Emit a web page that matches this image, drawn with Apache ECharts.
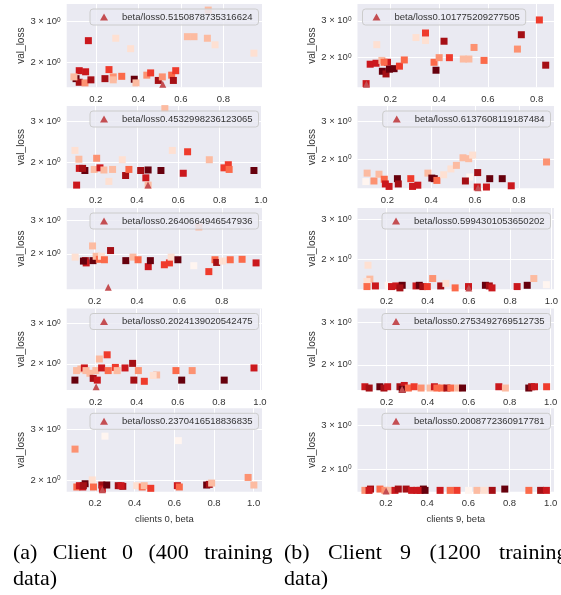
<!DOCTYPE html>
<html>
<head>
<meta charset="utf-8">
<script src="https://cdn.jsdelivr.net/npm/echarts@6/dist/echarts.min.js"></script>
<style>
  html, body { margin: 0; background: #fff; }
  #chart { width: 561px; height: 595px; }
</style>
</head>
<body>
<div id="chart"></div>
<script>
// every panel: [beta, val_loss, colour step 0..8 of the Reds map]
// client 0, panels top to bottom
const c0p1 = [[0.107,1.70,8],[0.122,1.84,6],[0.122,1.64,7],[0.149,1.63,3],[0.152,1.82,6],[0.165,2.48,6],[0.177,1.68,7],[0.097,1.73,2],[0.243,1.70,7],[0.262,1.86,5],[0.282,1.73,3],[0.294,2.54,1],[0.282,1.68,2],[0.322,1.74,4],[0.364,2.29,1],[0.381,1.69,8],[0.389,1.63,2],[0.44,1.76,3],[0.458,1.80,5],[0.494,1.67,7],[0.513,1.73,3],[0.557,1.76,4],[0.565,1.67,7],[0.576,1.84,5],[0.631,2.58,2],[0.662,2.58,2],[0.725,2.54,2],[0.761,2.38,1],[0.729,3.36,2],[0.944,2.19,1]]
const c0p2 = [[0.1,2.25,1],[0.119,2.06,2],[0.121,1.88,6],[0.108,1.59,6],[0.148,1.84,8],[0.137,1.88,7],[0.205,2.08,3],[0.193,1.86,2],[0.221,1.89,6],[0.24,1.85,2],[0.264,1.65,1],[0.282,1.86,2],[0.329,2.05,1],[0.345,1.75,7],[0.361,1.86,4],[0.418,1.84,7],[0.443,1.71,6],[0.454,1.85,8],[0.454,1.59,2],[0.516,1.84,8],[0.571,2.25,1],[0.624,1.79,6],[0.645,2.22,5],[0.75,2.05,2],[0.821,1.89,5],[0.842,1.95,5],[0.846,1.86,4],[0.966,1.84,8],[0.535,3.42,2]]
const c0p3 = [[0.108,1.92,1],[0.156,1.84,7],[0.16,1.79,6],[0.147,1.83,8],[0.19,2.20,2],[0.192,1.84,8],[0.207,1.94,2],[0.222,1.87,4],[0.232,1.94,1],[0.246,1.86,4],[0.275,2.08,7],[0.347,1.84,8],[0.381,1.92,2],[0.405,1.86,4],[0.453,1.71,6],[0.463,1.84,8],[0.529,1.75,5],[0.553,1.79,5],[0.561,1.92,1],[0.593,1.86,8],[0.668,1.73,0],[0.692,2.77,2],[0.739,1.61,5],[0.768,1.86,4],[0.776,1.80,7],[0.803,1.83,1],[0.84,1.86,4],[0.896,1.87,4],[0.962,1.79,6]]
const c0p4 = [[0.099,1.70,8],[0.107,1.87,2],[0.128,1.90,2],[0.145,1.92,6],[0.153,1.87,2],[0.172,1.82,2],[0.188,1.73,7],[0.208,1.70,6],[0.201,1.87,2],[0.218,2.10,2],[0.229,1.92,6],[0.256,2.19,5],[0.261,1.87,4],[0.299,1.87,1],[0.296,1.93,5],[0.305,1.87,2],[0.343,1.92,6],[0.38,2.01,7],[0.386,1.70,7],[0.408,1.87,3],[0.437,1.68,5],[0.497,1.79,2],[0.48,1.78,1],[0.591,1.87,4],[0.619,1.70,8],[0.67,1.87,3],[0.826,1.70,8],[0.971,1.92,6]]
const c0p5 = [[0.099,2.56,3],[0.108,1.89,4],[0.121,1.91,6],[0.138,1.89,6],[0.15,1.94,8],[0.141,1.91,7],[0.186,2.0,1],[0.192,1.89,4],[0.234,1.92,7],[0.237,1.86,6],[0.25,2.84,0],[0.259,1.92,8],[0.317,1.91,7],[0.34,1.90,7],[0.331,1.91,6],[0.41,1.91,1],[0.438,1.89,4],[0.448,1.91,2],[0.481,1.87,5],[0.615,1.91,6],[0.625,1.89,4],[0.62,2.74,0],[0.763,1.92,8],[0.776,1.93,7],[0.788,1.95,2],[0.972,2.04,3],[1.001,1.92,2]]

// client 9, panels top to bottom
const c9p1 = [[0.1003,1.49,6],[0.117,1.85,6],[0.141,1.87,6],[0.144,2.30,1],[0.165,1.93,2],[0.167,1.71,8],[0.182,1.66,7],[0.188,1.89,6],[0.174,1.89,4],[0.196,1.75,8],[0.215,1.76,8],[0.237,1.81,5],[0.257,1.94,4],[0.305,2.49,1],[0.344,2.62,5],[0.344,2.41,1],[0.379,1.89,4],[0.387,1.73,8],[0.40,1.99,3],[0.42,2.39,7],[0.442,1.99,5],[0.499,1.96,2],[0.522,1.96,2],[0.543,2.23,3],[0.584,1.93,4],[0.721,2.19,3],[0.737,2.57,7],[0.811,3.03,5],[0.837,1.83,7]]
const c9p2 = [[0.102,1.57,0],[0.108,1.72,2],[0.139,1.58,3],[0.162,1.70,2],[0.186,1.61,4],[0.191,1.53,6],[0.208,1.49,6],[0.246,1.62,8],[0.25,1.53,7],[0.307,1.62,5],[0.315,1.49,6],[0.339,1.51,6],[0.385,1.72,2],[0.403,1.63,8],[0.414,1.62,8],[0.426,1.59,4],[0.457,1.69,1],[0.49,1.80,1],[0.515,1.87,2],[0.545,2.03,2],[0.571,2.01,2],[0.589,2.09,1],[0.576,1.65,0],[0.556,1.58,7],[0.612,1.73,7],[0.61,1.48,6],[0.652,1.48,6],[0.667,1.62,8],[0.724,1.62,8],[0.765,1.50,6],[0.926,1.94,3]]
const c9p3 = [[0.110,1.88,1],[0.119,1.63,2],[0.105,1.59,1],[0.105,1.51,4],[0.146,1.52,6],[0.208,1.53,0],[0.224,1.51,6],[0.245,1.52,6],[0.276,1.53,8],[0.265,1.49,7],[0.343,1.52,6],[0.359,1.53,8],[0.376,1.51,7],[0.398,1.51,5],[0.424,1.64,3],[0.463,1.52,7],[0.488,1.56,1],[0.533,1.49,4],[0.598,1.51,6],[0.68,1.53,8],[0.699,1.52,7],[0.712,1.49,6],[0.834,1.51,6],[0.883,1.53,8],[0.915,1.64,2],[0.976,1.54,0]]
const c9p4 = [[0.094,1.62,6],[0.115,1.60,7],[0.167,1.62,8],[0.187,1.60,7],[0.205,1.62,6],[0.265,1.62,7],[0.286,1.64,6],[0.276,1.58,8],[0.306,1.60,4],[0.334,1.62,5],[0.368,1.60,3],[0.412,1.60,2],[0.433,1.62,6],[0.445,1.60,4],[0.469,1.60,4],[0.494,1.60,7],[0.513,1.60,4],[0.548,1.60,2],[0.57,1.60,8],[0.747,1.62,6],[0.779,1.60,2],[0.893,1.60,8],[0.907,1.62,7],[0.921,1.62,6],[0.98,1.62,5]]
const c9p5 = [[0.098,1.64,3],[0.125,1.66,7],[0.118,1.64,6],[0.171,1.66,4],[0.195,1.64,3],[0.216,1.64,2],[0.244,1.64,6],[0.26,1.66,7],[0.298,1.66,7],[0.325,1.64,6],[0.35,1.64,6],[0.382,1.66,8],[0.366,1.64,6],[0.39,1.64,8],[0.463,1.64,6],[0.512,1.64,4],[0.545,1.64,5],[0.601,1.64,0],[0.642,1.64,2],[0.678,1.64,1],[0.716,1.64,7],[0.777,1.66,8],[0.894,1.64,4],[0.951,1.64,7],[0.979,1.64,6]]

// best beta of each panel (legend) and its loss
const c0Best = [0.5150878735316624, 0.4532998236123065, 0.2640664946547936, 0.2024139020542475, 0.2370416518836835]
const c0BestLoss = [1.61, 1.59, 1.33, 1.59, 1.85]
const c9Best = [0.101775209277505, 0.6137608119187484, 0.5994301053650202, 0.2753492769512735, 0.2008772360917781]
const c9BestLoss = [1.48, 1.47, 1.49, 1.58, 1.63]

// axis limits
const c0XMin = [0.063, 0.060, 0.068, 0.059, 0.057]
const c0XMax = [0.982, 1.005, 0.99, 1.01, 1.042]
const c0YMin = [1.56, 1.54, 1.30, 1.54, 1.82]
const c0YMax = [3.57, 3.51, 3.49, 3.48, 3.55]
const c9XMin = [0.065, 0.064, 0.059, 0.058, 0.062]
const c9XMax = [0.871, 0.96, 1.013, 1.016, 1.016]
const c9YMin = [1.43, 1.46, 1.47, 1.57, 1.62]
const c9YMax = [3.62, 3.55, 3.38, 3.44, 3.51]

const xTicks = [0.2, 0.4, 0.6, 0.8, 1.0]
const yTicks = [2, 3]

const reds = ['#fff5f0', '#fee0d2', '#fcbba1', '#fc9272', '#fb6a4a', '#ef3b2c', '#cb181d', '#a50f15', '#67000d']

const sans = 'Liberation Sans, Arial, sans-serif'
const textColor = '#333'
const rowTop = [4, 106, 208, 308.5, 408.3]
const rowHeight = [83.3, 82.3, 81.2, 81.5, 83.4]

const columns = [
  { runs: [c0p1, c0p2, c0p3, c0p4, c0p5], best: c0Best, bestLoss: c0BestLoss,
    xMin: c0XMin, xMax: c0XMax, yMin: c0YMin, yMax: c0YMax,
    label: 'clients 0, beta', left: 66.7, width: 195.3 },
  { runs: [c9p1, c9p2, c9p3, c9p4, c9p5], best: c9Best, bestLoss: c9BestLoss,
    xMin: c9XMin, xMax: c9XMax, yMin: c9YMin, yMax: c9YMax,
    label: 'clients 9, beta', left: 357.5, width: 196.5 }
]

const grid = [], xAxis = [], yAxis = [], series = [], legend = [], squareSeries = []

columns.forEach((col, c) => {
  for (let r = 0; r < 5; r++) {
    const idx = c * 5 + r
    grid.push({
      left: col.left, top: rowTop[r], width: col.width, height: rowHeight[r],
      show: true, backgroundColor: '#eaeaf2', borderWidth: 0
    })
    xAxis.push({
      type: 'value', gridIndex: idx, min: col.xMin[r], max: col.xMax[r],
      axisLine: { show: false },
      axisTick: { show: false, customValues: xTicks },
      axisLabel: { customValues: xTicks, formatter: v => v.toFixed(1), color: textColor, fontSize: 9.5, fontFamily: sans, margin: 7 },
      splitLine: { show: true, lineStyle: { color: '#ffffff', width: 1 } },
      name: r === 4 ? col.label : '', nameLocation: 'middle', nameGap: 23,
      nameTextStyle: { color: textColor, fontSize: 9.5, fontFamily: sans }
    })
    yAxis.push({
      type: 'log', gridIndex: idx, min: col.yMin[r], max: col.yMax[r],
      axisLine: { show: false }, axisTick: { show: false },
      axisLabel: { show: false }, splitLine: { show: false },
      name: 'val_loss', nameLocation: 'middle', nameGap: 40,
      nameTextStyle: { color: textColor, fontSize: 10, fontFamily: sans }
    })
    squareSeries.push(series.length)
    series.push({
      type: 'scatter', xAxisIndex: idx, yAxisIndex: idx, data: col.runs[r],
      symbol: 'rect', symbolSize: 7, clip: false, z: 2,
      itemStyle: { opacity: 1 },
      markLine: {
        silent: true, symbol: 'none', z: 1, animation: false,
        lineStyle: { color: '#ffffff', width: 1, type: 'solid' },
        label: {
          position: 'start', distance: 6,
          formatter: p => '{n|' + p.value + ' × 10}{e|0}',
          rich: {
            n: { fontSize: 9.5, color: textColor, fontFamily: sans },
            e: { fontSize: 6.5, color: textColor, fontFamily: sans, verticalAlign: 'top' }
          }
        },
        data: yTicks.map(v => ({ yAxis: v }))
      }
    })
    const name = 'beta/loss' + col.best[r]
    series.push({
      type: 'scatter', name, xAxisIndex: idx, yAxisIndex: idx,
      data: [[col.best[r], col.bestLoss[r]]],
      symbol: 'triangle', symbolSize: 7, z: 3,
      itemStyle: { color: '#c44e52', opacity: 1 }
    })
    const pos = { top: rowTop[r] + 5 }
    if (c === 1 && r === 0) pos.left = col.left + 5
    else pos.right = 561 - (col.left + col.width) + 3.5
    legend.push(Object.assign(pos, {
      data: [name], selectedMode: false,
      itemWidth: 8, itemHeight: 7, padding: [3, 6, 3, 10],
      backgroundColor: 'rgba(234,234,242,0.8)', borderColor: '#cccccc', borderWidth: 1, borderRadius: 3,
      textStyle: { color: textColor, fontSize: 9.5, fontFamily: sans, padding: [0, 0, 0, 9] }
    }))
  }
})

const chart = echarts.init(document.getElementById('chart'))
chart.setOption({
  animation: false,
  title: [
    { text: '(a)\u2002\u2009Client\u2002\u20090\u2002\u2009(400\u2002\u2009training\ndata)', left: 8, top: 535,
      textStyle: { fontFamily: 'Liberation Serif', fontSize: 22, fontWeight: 'normal', color: '#000', lineHeight: 26 } },
    { text: '(b) \u2002\u200AClient \u2002\u200A9 \u2002\u200A(1200 \u2002\u200Atraining\ndata)', left: 279, top: 535,
      textStyle: { fontFamily: 'Liberation Serif', fontSize: 22, fontWeight: 'normal', color: '#000', lineHeight: 26 } }
  ],
  visualMap: {
    type: 'continuous', show: false, min: 0, max: 8, dimension: 2,
    seriesIndex: squareSeries, inRange: { color: reds }
  },
  legend, grid, xAxis, yAxis, series
})
</script>
</body>
</html>
